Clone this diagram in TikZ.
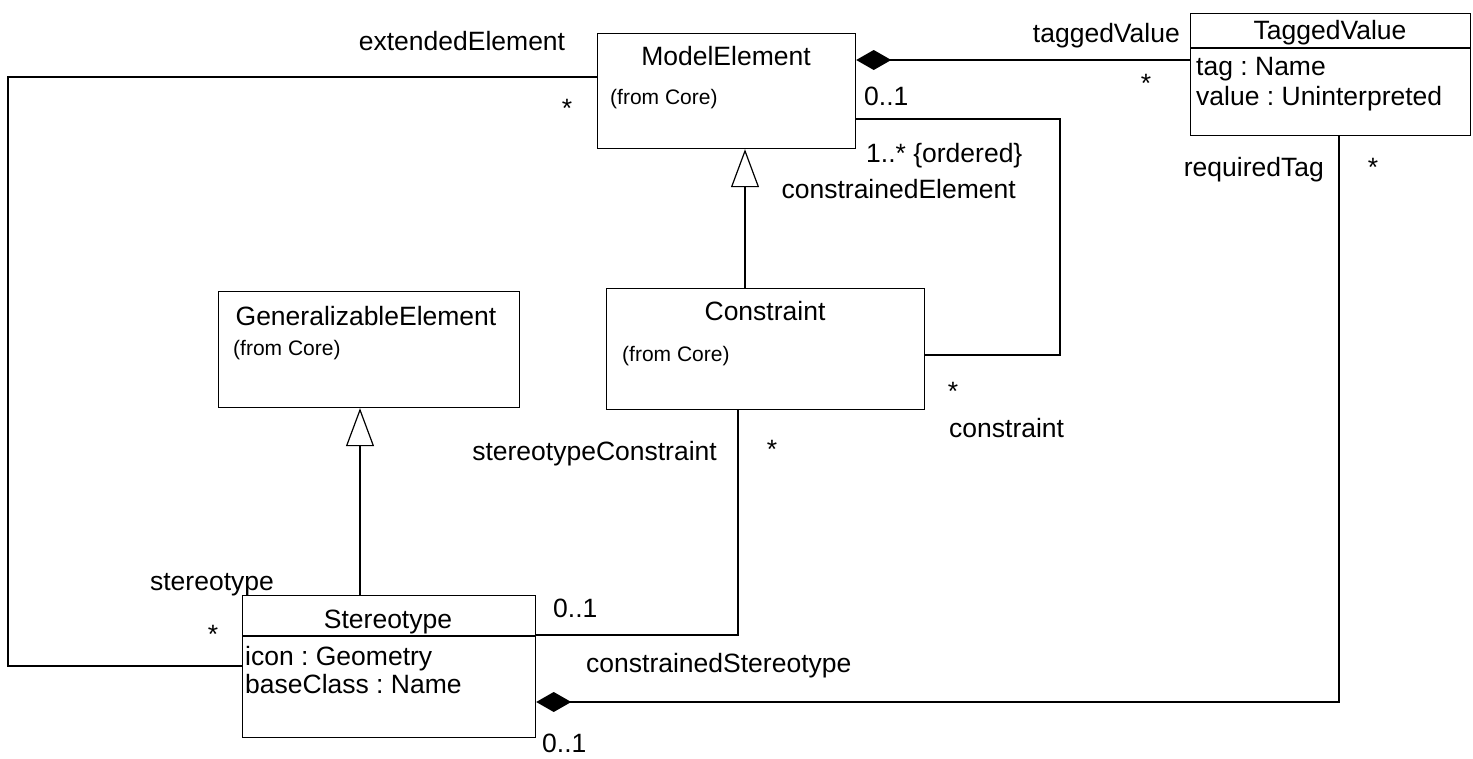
\documentclass[tikz,border=0pt]{standalone}
\usepackage{fontspec}
\setmainfont{Liberation Sans}
\usetikzlibrary{arrows.meta}
\frenchspacing
\begin{document}
\begin{tikzpicture}[x=1pt,y=-1pt,
  box/.style={draw, line width=1.2pt, inner sep=0, anchor=north west},
  lbl/.style={inner sep=0, font=\fontsize{26.5}{30}\selectfont},
  sml/.style={inner sep=0, font=\fontsize{21}{25}\selectfont},
  conn/.style={line width=1.2pt},
  gen/.style={conn, -{Triangle[open, length=38pt, width=28pt, line width=1.2pt]}},
  comp/.style={conn, -{Diamond[length=35pt, width=20pt]}},
]
\useasboundingbox (0,0) rectangle (1473,758);
\fill[white] (0,0) rectangle (1473,758);

% boxes
\node[box, minimum width=258pt, minimum height=115pt] (me) at (597,33) {};
\node[box, minimum width=280pt, minimum height=122pt] (tv) at (1190,13) {};
\node[box, minimum width=318pt, minimum height=121pt] (con) at (606,288) {};
\node[box, minimum width=301pt, minimum height=116pt] (ge) at (218,291) {};
\node[box, minimum width=293pt, minimum height=142pt] (st) at (242,595) {};

% compartment separators
\coordinate (tvs) at (0,48);
\coordinate (sts) at (0,636);
\draw[conn] (tv.west |- tvs) -- (tv.east |- tvs);
\draw[conn] (st.west |- sts) -- (st.east |- sts);

% box texts
\node[lbl, anchor=base] (meT) at (726,65) {ModelElement};
\node[sml, anchor=base west] (meF) at (610,104) {(from Core)};
\node[lbl, anchor=base] (tvT) at (1330,39) {TaggedValue};
\node[lbl, anchor=base west] (tvA1) at (1196,75) {tag : Name};
\node[lbl, anchor=base west] (tvA2) at (1196,105) {value : Uninterpreted};
\node[lbl, anchor=base] (conT) at (765,320) {Constraint};
\node[sml, anchor=base west] (conF) at (622,361) {(from Core)};
\node[lbl, anchor=base] (geT) at (366,325) {GeneralizableElement};
\node[sml, anchor=base west] (geF) at (233,355) {(from Core)};
\node[lbl, anchor=base] (stT) at (388,628) {Stereotype};
\node[lbl, anchor=base west] (stA1) at (245,665) {icon : Geometry};
\node[lbl, anchor=base west] (stA2) at (245,693) {baseClass : Name};

% connectors
\coordinate (lb1) at (8,77);
\coordinate (lb2) at (8,666);
\draw[conn] (me.west |- lb1) -- (lb1) -- (lb2) -- (st.west |- lb2);

\coordinate (gx1) at (745,0);
\draw[gen] (con.north -| gx1) -- (me.south -| gx1);

\coordinate (cy1) at (0,60);
\draw[comp] (tv.west |- cy1) -- (me.east |- cy1);

\coordinate (a1) at (1060,119);
\coordinate (a2) at (1060,355);
\draw[conn] (me.east |- a1) -- (a1) -- (a2) -- (con.east |- a2);

\coordinate (b1) at (738,635);
\draw[conn] (con.south -| b1) -- (b1) -- (st.east |- b1);

\coordinate (gx2) at (360,0);
\draw[gen] (st.north -| gx2) -- (ge.south -| gx2);

\coordinate (d1) at (1339,702);
\draw[comp] (tv.south -| d1) -- (d1) -- (st.east |- d1);

% role and multiplicity labels
\node[lbl, anchor=base] (l1) at (462,50) {extendedElement};
\node[lbl, anchor=base] (l2) at (567,117) {*};
\node[lbl, anchor=base east] (l3) at (1180,42) {taggedValue};
\node[lbl, anchor=base] (l4) at (1146,92) {*};
\node[lbl, anchor=base west] (l5) at (864,105) {0..1};
\node[lbl, anchor=base west] (l6) at (866,162) {1..* \{ordered\}};
\node[lbl, anchor=base east] (l7) at (1016,198) {constrainedElement};
\node[lbl, anchor=base east] (l8) at (1324,176) {requiredTag};
\node[lbl, anchor=base] (l9) at (1373,176) {*};
\node[lbl, anchor=base] (l10) at (953,400) {*};
\node[lbl, anchor=base west] (l11) at (949,437) {constraint};
\node[lbl, anchor=base east] (l12) at (717,460) {stereotypeConstraint};
\node[lbl, anchor=base] (l13) at (772,458) {*};
\node[lbl, anchor=base] (l14) at (212,590) {stereotype};
\node[lbl, anchor=base] (l15) at (213,643) {*};
\node[lbl, anchor=base west] (l16) at (553,617) {0..1};
\node[lbl, anchor=base west] (l17) at (586,672) {constrainedStereotype};
\node[lbl, anchor=base west] (l18) at (542,752) {0..1};
\end{tikzpicture}
\end{document}
